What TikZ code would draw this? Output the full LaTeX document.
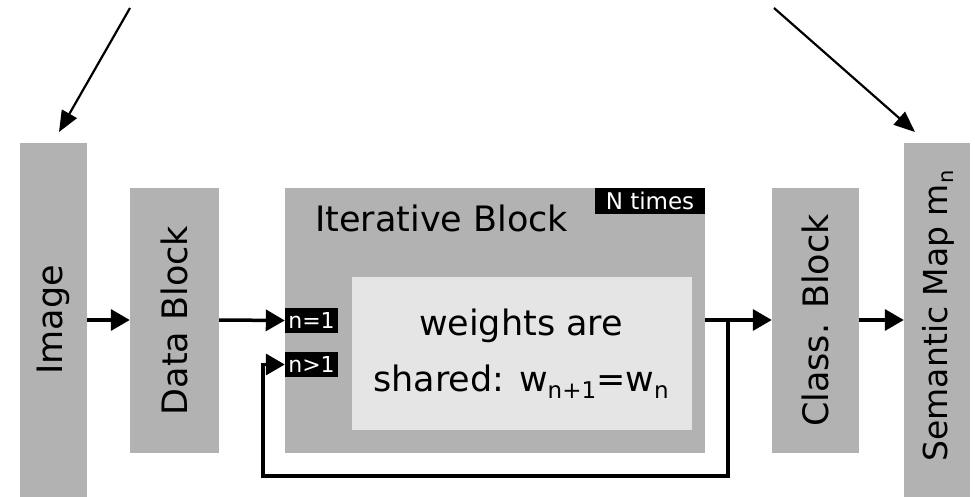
\documentclass[tikz,border=0pt]{standalone}
\usepackage{fontspec}
\setmainfont{DejaVu Sans}
\usetikzlibrary{arrows.meta}
\newcommand\mysub[2]{\raisebox{-0.2em}{\fontsize{#1}{#1}\selectfont #2}}
\tikzset{
  box/.style={fill=black!30, draw=none, inner sep=0pt},
  inner/.style={fill=black!10, draw=none, inner sep=0pt},
  tag/.style={fill=black, text=white, inner sep=0pt, font=\fontsize{22}{22}\selectfont},
  big/.style={font=\fontsize{35}{35}\selectfont, inner sep=0pt},
  arr/.style={line width=3.5pt, -{Triangle[length=19pt,width=21pt]}},
  thin/.style={line width=2.2pt, -{Triangle[length=21pt,width=17pt]}},
}
\begin{document}
\begin{tikzpicture}[x=1pt,y=-1pt]
\useasboundingbox (0,0) rectangle (975,497);
% boxes
\node[box, minimum width=67pt, minimum height=354pt] (img) at (53.5,320) {};
\node[box, minimum width=89pt, minimum height=265pt] (data) at (174.5,320.5) {};
\node[box, minimum width=420pt, minimum height=265pt] (iter) at (495,320.5) {};
\node[box, minimum width=87pt, minimum height=265pt] (cls) at (815.5,320.5) {};
\node[box, minimum width=66pt, minimum height=354pt] (sem) at (937,320) {};
\node[inner, minimum width=340pt, minimum height=153pt] (wbox) at (522,353.5) {};
% texts
\node[big, rotate=90] (timg) at (img.center) {Image};
\node[big, rotate=90] (tdata) at (data.center) {Data Block};
\node[big, rotate=90] (tcls) at (cls.center) {Class. Block};
\node[big, rotate=90, font=\fontsize{33}{33}\selectfont] (tsem) at (938,316) {Semantic Map m\mysub{21}{n}};
\node[big, anchor=base west] (titer) at (315,232) {Iterative Block};
\node[tag, minimum width=110pt, minimum height=26pt, font=\fontsize{23}{23}\selectfont] (ntimes) at (650,201) {N times};
\node[tag, minimum width=53pt, minimum height=25pt] (n1) at (311.5,320.5) {n=1};
\node[tag, minimum width=53pt, minimum height=25pt] (n2) at (311.5,364.5) {n>1};
\node[big, anchor=base] (w1) at (521,335) {weights are};
\node[big, anchor=base] (w2) at (521,391) {shared: w\mysub{23}{n+1}=w\mysub{23}{n}};
% connectors
\coordinate (split) at (728,320);
\coordinate (low) at (263,476);
\draw[arr] (img.east |- 0,320) -- (data.west |- 0,320);
\draw[arr] (data.east |- 0,320) -- (n1.west);
\draw[arr] (iter.east |- 0,320) -- (cls.west |- 0,320);
\draw[arr] (cls.east |- 0,320) -- (sem.west |- 0,320);
\draw[arr] (split) |- (low) |- (n2.west);
% top arrows
\coordinate (s1) at (130,8);
\coordinate (e1) at (59,132);
\coordinate (s2) at (774,8);
\coordinate (e2) at (915,132);
\draw[thin] (s1) -- (e1);
\draw[thin] (s2) -- (e2);
\end{tikzpicture}
\end{document}
